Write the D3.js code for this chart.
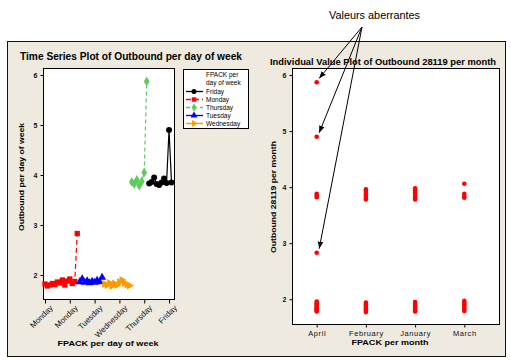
<!DOCTYPE html>
<html>
<head>
<meta charset="utf-8">
<script src="https://cdn.jsdelivr.net/npm/d3@7"></script>
<style>
    body { margin: 0; background: #fff; }
    text { font-family: "Liberation Sans", Arial, sans-serif; }
</style>
</head>
<body>
<script>
// time series, one array per day (in index order)
const dayOrder = ["Monday", "Tuesday", "Wednesday", "Thursday", "Friday"];
const mondayValues = [1.82, 1.78, 1.80, 1.83, 1.81, 1.86, 1.84, 1.90, 1.80, 1.88, 1.92, 1.83, 1.87, 2.83];
const tuesdayValues = [1.86, 1.92, 1.85, 1.88, 1.84, 1.87, 1.85, 1.89, 1.86, 1.95];
const wednesdayValues = [1.82, 1.80, 1.84, 1.78, 1.83, 1.80, 1.86, 1.90, 1.84, 1.81, 1.79];
const thursdayValues = [3.86, 3.82, 3.90, 3.79, 3.87, 4.05, 5.87];
const fridayValues = [3.83, 3.86, 3.95, 3.82, 3.80, 3.85, 3.93, 3.84, 4.90, 3.85];
const legendOrder = ["Friday", "Monday", "Thursday", "Tuesday", "Wednesday"];
const dayTickIndex = [1, 11, 21, 31, 41, 51];
const dayTickLabels = ["Monday", "Monday", "Tuesday", "Wednesday", "Thursday", "Friday"];
const dayTicksY = [2, 3, 4, 5, 6];

// individual values per month
const months = ["April", "February", "January", "March"];
const aprilValues = [1.78, 1.80, 1.82, 1.84, 1.86, 1.88, 1.90, 1.93, 1.96, 2.83, 3.82, 3.85, 3.88, 4.90, 5.87];
const februaryValues = [1.77, 1.79, 1.82, 1.85, 1.88, 1.91, 1.94, 3.78, 3.81, 3.85, 3.89, 3.93, 3.96];
const januaryValues = [1.78, 1.80, 1.83, 1.86, 1.89, 1.92, 1.95, 3.78, 3.82, 3.86, 3.90, 3.94, 3.98];
const marchValues = [1.79, 1.82, 1.85, 1.88, 1.91, 1.94, 1.97, 3.81, 3.84, 3.88, 4.06];
const monthTicksY = [2, 3, 4, 5, 6];
const outlierValues = [5.87, 4.90, 2.83];   // April

var dayValues = {
    Monday: mondayValues, Tuesday: tuesdayValues, Wednesday: wednesdayValues,
    Thursday: thursdayValues, Friday: fridayValues
};
var monthValues = { April: aprilValues, February: februaryValues, January: januaryValues, March: marchValues };

var dayStyle = {
    Friday:    { color: "#000000", dash: null,      symbol: d3.symbolCircle,   rotate: 0 },
    Monday:    { color: "#ff0000", dash: "5,3",     symbol: d3.symbolSquare,   rotate: 0 },
    Thursday:  { color: "#5fcb5f", dash: "4,3",     symbol: d3.symbolDiamond,  rotate: 0 },
    Tuesday:   { color: "#0000ff", dash: null,      symbol: d3.symbolTriangle, rotate: 0 },
    Wednesday: { color: "#ff9900", dash: "6,2,1,2", symbol: d3.symbolTriangle, rotate: 90 }
};

var svg = d3.select("body").append("svg")
            .attr("width", 511)
            .attr("height", 361);

svg.append("rect")
   .attr("x", 7.5).attr("y", 41.5)
   .attr("width", 498).attr("height", 315)
   .attr("fill", "#eeeadf")
   .attr("stroke", "#111");

function styleAxis(g, size, bold){
    g.select(".domain").remove();
    g.selectAll(".tick line").attr("stroke", "#000");
    g.selectAll(".tick text")
     .attr("fill", "#111")
     .style("font-size", size + "px")
     .style("font-weight", bold ? "bold" : "normal");
}

// ---------- left: time series plot ----------
var xL = d3.scaleLinear().domain([0.2, 53]).range([43, 174]);
var yL = d3.scaleLinear().domain([1.52, 6.14]).range([299, 68]);

svg.append("rect")
   .attr("x", 43.5).attr("y", 68.5)
   .attr("width", 131).attr("height", 231)
   .attr("fill", "#fff")
   .attr("stroke", "#000");

svg.append("g")
   .attr("transform", "translate(43.5,0)")
   .call(d3.axisLeft(yL).tickValues(dayTicksY).tickSize(3).tickPadding(3).tickFormat(d3.format("d")))
   .call(g => styleAxis(g, 7, true));

var xAxisL = svg.append("g")
   .attr("transform", "translate(0,299.5)")
   .call(d3.axisBottom(xL).tickValues(dayTickIndex).tickSize(4).tickFormat((d, i) => dayTickLabels[i]))
   .call(g => styleAxis(g, 8, false));
xAxisL.selectAll(".tick text")
      .attr("text-anchor", "end")
      .attr("dy", 0)
      .attr("transform", "translate(3,4) rotate(-45)");

var idx = 1;
var series = dayOrder.map(function(day){
    var pts = dayValues[day].map(v => ({ i: idx++, v: v }));
    return { day: day, pts: pts };
});

var line = d3.line().x(d => xL(d.i)).y(d => yL(d.v));

series.forEach(function(s){
    var st = dayStyle[s.day];
    svg.append("path")
       .datum(s.pts)
       .attr("d", line)
       .attr("fill", "none")
       .attr("stroke", st.color)
       .attr("stroke-width", 1.2)
       .attr("stroke-dasharray", st.dash);
    svg.append("g").selectAll("path")
       .data(s.pts)
       .join("path")
       .attr("d", d3.symbol().type(st.symbol).size(28))
       .attr("transform", d => "translate(" + xL(d.i) + "," + yL(d.v) + ") rotate(" + st.rotate + ")")
       .attr("fill", st.color);
});

svg.append("text")
   .attr("x", 131).attr("y", 60)
   .attr("text-anchor", "middle")
   .attr("textLength", 222).attr("lengthAdjust", "spacingAndGlyphs")
   .style("font-size", "10.5px").style("font-weight", "bold")
   .text("Time Series Plot of Outbound per day of week");

svg.append("text")
   .attr("transform", "translate(24,177) rotate(-90)")
   .attr("text-anchor", "middle")
   .attr("textLength", 108).attr("lengthAdjust", "spacingAndGlyphs")
   .style("font-size", "8px").style("font-weight", "bold")
   .text("Outbound per day of week");

svg.append("text")
   .attr("x", 108).attr("y", 346)
   .attr("text-anchor", "middle")
   .attr("textLength", 101).attr("lengthAdjust", "spacingAndGlyphs")
   .style("font-size", "8px").style("font-weight", "bold")
   .text("FPACK per day of week");

// legend
var legend = svg.append("g");
legend.append("rect")
      .attr("x", 183.5).attr("y", 69.5)
      .attr("width", 65).attr("height", 59)
      .attr("fill", "#fff").attr("stroke", "#000");
legend.append("text").attr("x", 206).attr("y", 77)
      .style("font-size", "6.5px").text("FPACK per");
legend.append("text").attr("x", 206).attr("y", 85)
      .style("font-size", "6.5px").text("day of week");
legendOrder.forEach(function(day, k){
    var st = dayStyle[day];
    var y = 91.5 + k * 8;
    legend.append("line")
          .attr("x1", 186).attr("x2", 203)
          .attr("y1", y).attr("y2", y)
          .attr("stroke", st.color).attr("stroke-width", 1.3)
          .attr("stroke-dasharray", st.dash);
    legend.append("path")
          .attr("d", d3.symbol().type(st.symbol).size(20))
          .attr("transform", "translate(194," + y + ") rotate(" + st.rotate + ")")
          .attr("fill", st.color);
    legend.append("text")
          .attr("x", 206).attr("y", y + 2.5)
          .style("font-size", "6.5px")
          .text(day);
});

// ---------- right: individual value plot ----------
var xR = d3.scalePoint().domain(months).range([316.7, 464.3]);
var yR = d3.scaleLinear().domain([1.54, 6.12]).range([325, 68.3]);

svg.append("rect")
   .attr("x", 292.5).attr("y", 68.5)
   .attr("width", 207).attr("height", 256)
   .attr("fill", "#fff")
   .attr("stroke", "#000");

svg.append("g")
   .attr("transform", "translate(292.5,0)")
   .call(d3.axisLeft(yR).tickValues(monthTicksY).tickSize(3).tickPadding(3).tickFormat(d3.format("d")))
   .call(g => styleAxis(g, 7, true));

svg.append("g")
   .attr("transform", "translate(0,324.5)")
   .call(d3.axisBottom(xR).tickSize(3).tickPadding(3))
   .call(g => styleAxis(g, 7.5, false))
   .selectAll(".tick text").style("letter-spacing", "0.6px");

var dots = [];
months.forEach(m => monthValues[m].forEach(v => dots.push({ m: m, v: v })));

svg.append("g").selectAll("circle")
   .data(dots)
   .join("circle")
   .attr("cx", d => xR(d.m))
   .attr("cy", d => yR(d.v))
   .attr("r", 2.3)
   .attr("fill", "#ff0000");

svg.append("text")
   .attr("x", 383).attr("y", 65)
   .attr("text-anchor", "middle")
   .attr("textLength", 226).attr("lengthAdjust", "spacingAndGlyphs")
   .style("font-size", "9px").style("font-weight", "bold")
   .text("Individual Value Plot of Outbound 28119 per month");

svg.append("text")
   .attr("transform", "translate(276,197) rotate(-90)")
   .attr("text-anchor", "middle")
   .attr("textLength", 112).attr("lengthAdjust", "spacingAndGlyphs")
   .style("font-size", "8px").style("font-weight", "bold")
   .text("Outbound 28119 per month");

svg.append("text")
   .attr("x", 390).attr("y", 345)
   .attr("text-anchor", "middle")
   .attr("textLength", 77).attr("lengthAdjust", "spacingAndGlyphs")
   .style("font-size", "8px").style("font-weight", "bold")
   .text("FPACK per month");

// ---------- annotation ----------
svg.append("defs").append("marker")
   .attr("id", "arrow")
   .attr("viewBox", "0 0 10 10")
   .attr("refX", 10).attr("refY", 5)
   .attr("markerWidth", 7).attr("markerHeight", 7)
   .attr("orient", "auto")
   .append("path")
   .attr("d", "M0,1 L10,5 L0,9 Z")
   .attr("fill", "#000");

svg.append("text")
   .attr("x", 329).attr("y", 19)
   .attr("textLength", 91).attr("lengthAdjust", "spacingAndGlyphs")
   .style("font-size", "11px")
   .text("Valeurs aberrantes");

svg.append("g").selectAll("line")
   .data(outlierValues)
   .join("line")
   .attr("x1", 362).attr("y1", 27)
   .attr("x2", xR("April") + 2.5)
   .attr("y2", d => yR(d) - 4)
   .attr("stroke", "#000")
   .attr("stroke-width", 1)
   .attr("marker-end", "url(#arrow)");
</script>
</body>
</html>
